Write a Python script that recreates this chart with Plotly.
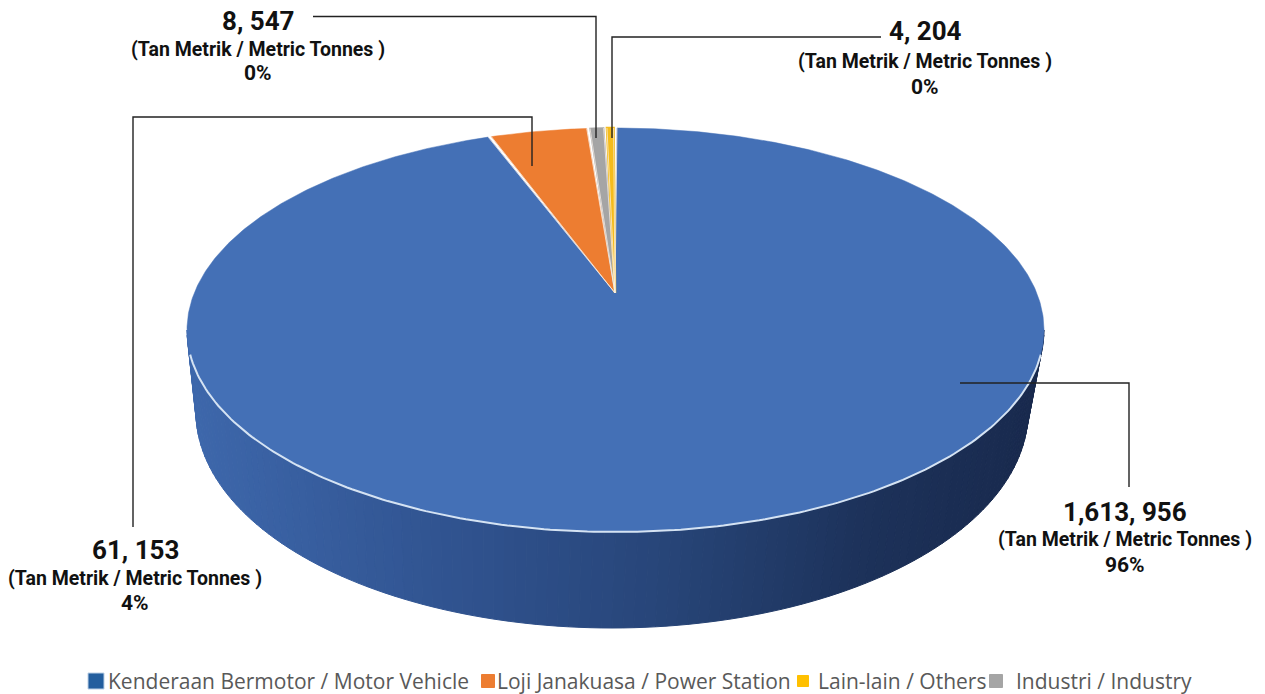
import numpy as np
import plotly.graph_objects as go

# ---- data -------------------------------------------------------------
categories = ["Kenderaan Bermotor / Motor Vehicle", "Loji Janakuasa / Power Station",
              "Lain-lain / Others", "Industri / Industry"]
values = [1613956, 61153, 4204, 8547]
value_labels = ["1,613, 956", "61, 153", "4, 204", "8, 547"]
percent_labels = ["96%", "4%", "0%", "0%"]
unit_label = "(Tan Metrik / Metric Tonnes )"
colors = ["#4470B6", "#ED7D31", "#F5BC1C", "#A5A5A5"]
edge_widths = [0.5, 0.5, 2.5, 1.5]
clockwise_order = [0, 1, 3, 2]

# ---- geometry of the tilted disc (axis units = page pixels) ------------
W, H = 1265, 694
CX, CY, A, B = 615.5, 330.0, 428.5, 202.0      # top ellipse
APEX = (615.0, 293.0)                           # projected pie centre
BX, BY, BA, BB = 612.0, 412.0, 416.0, 216.0     # bottom ellipse
START_DEG, GAP_DEG = 0.2, 0.45


def top(t):
    t = np.radians(t)
    return CX + A * np.sin(t), CY - B * np.cos(t)


def bottom(t):
    t = np.radians(t)
    return BX + BA * np.sin(t), BY - BB * np.cos(t)


def lerp_color(stops, f):
    xs = [s[0] for s in stops]
    return "rgb(%d,%d,%d)" % tuple(np.interp(f, xs, [s[1][i] for s in stops]) for i in range(3))


fig = go.Figure()

# side wall
side_stops = [(0.0, (62, 104, 172)), (0.3, (49, 84, 145)), (0.55, (40, 70, 122)),
              (0.8, (29, 50, 90)), (1.0, (25, 42, 78))]
phis = np.linspace(270, 90, 121)
for p0, p1 in zip(phis[:-1], phis[1:]):
    ts = np.linspace(p0, p1, 4)
    tx, ty = top(ts)
    bx, by = bottom(ts)
    xs = np.r_[tx, bx[::-1], tx[0]]
    ys = np.r_[ty, by[::-1], ty[0]]
    f = (tx.mean() - (CX - A)) / (2 * A)
    c = lerp_color(side_stops, f)
    fig.add_trace(go.Scatter(x=xs, y=ys, mode="lines", fill="toself", fillcolor=c,
                             line=dict(color=c, width=1), hoverinfo="skip", showlegend=False))

# top face
total = sum(values)
sweep_total = 360 - GAP_DEG * len(values)
angle = START_DEG
for idx in clockwise_order:
    sweep = values[idx] / total * sweep_total
    ts = np.linspace(angle, angle + sweep, max(4, int(sweep * 2)))
    rx, ry = top(ts)
    xs = np.r_[APEX[0], rx, APEX[0]]
    ys = np.r_[APEX[1], ry, APEX[1]]
    fig.add_trace(go.Scatter(x=xs, y=ys, mode="lines", fill="toself", fillcolor=colors[idx],
                             line=dict(color=colors[idx], width=edge_widths[idx]),
                             name=categories[idx], showlegend=False,
                             text=f"{categories[idx]}: {values[idx]:,}", hoverinfo="text"))
    angle += sweep + GAP_DEG

# pale slice separators
ang = START_DEG
for idx in clockwise_order:
    ang += values[idx] / total * sweep_total
    for e in (ang, ang + GAP_DEG):
        ex, ey = top(np.array([e]))
        fig.add_trace(go.Scatter(x=[APEX[0], ex[0]], y=[APEX[1], ey[0]], mode="lines",
                                 line=dict(color="rgba(250,240,232,0.8)", width=0.9),
                                 hoverinfo="skip", showlegend=False))
    ang += GAP_DEG

# pale front rim
rt = np.linspace(97, 263, 200)
rx, ry = top(rt)
fig.add_trace(go.Scatter(x=rx, y=ry, mode="lines", line=dict(color="#D5E3F3", width=2),
                         hoverinfo="skip", showlegend=False))

# leader lines
leaders = [
    ([960, 1129, 1129], [383, 383, 487]),
    ([532, 532, 133, 133], [166, 117, 117, 527]),
    ([881, 612, 612], [37, 37, 138]),
    ([313, 596, 596], [16.5, 16.5, 138]),
]
for lx, ly in leaders:
    fig.add_trace(go.Scatter(x=lx, y=ly, mode="lines", line=dict(color="#222222", width=1.4),
                             hoverinfo="skip", showlegend=False))

# data labels
label_pos = [(1125, 512, 539, 565), (135, 550, 578, 603), (925, 31, 61, 87), (258, 21, 49, 73)]
LABEL_FONT = "Roboto"
anns = []
for i, (x, y1, y2, y3) in enumerate(label_pos):
    anns.append(dict(x=x, y=y1, text=f"<b>{value_labels[i]}</b>", showarrow=False,
                     font=dict(family=LABEL_FONT, size=26, color="#111111")))
    anns.append(dict(x=x, y=y2, text=f"<b>{unit_label}</b>", showarrow=False,
                     font=dict(family=LABEL_FONT, size=19.5, color="#111111")))
    anns.append(dict(x=x, y=y3, text=f"<b>{percent_labels[i]}</b>", showarrow=False,
                     font=dict(family=LABEL_FONT, size=21, color="#111111")))

# legend row
swatch_x = [96, 488, 803, 996]
text_x = [106, 495, 816, 1014]
swatch_colors = ["#235E9E", "#ED7D31", "#FFC000", "#A5A5A5"]
swatch_edges = ["#BCD0E6", "#ED7D31", "#FFC000", "#A5A5A5"]
swatch_size = [16, 13, 11, 13]
LEGEND_Y = 681
for i, cat in enumerate(categories):
    fig.add_trace(go.Scatter(x=[swatch_x[i]], y=[LEGEND_Y], mode="markers",
                             marker=dict(symbol="square", size=swatch_size[i], color=swatch_colors[i],
                                         line=dict(color=swatch_edges[i], width=1)),
                             hoverinfo="skip", showlegend=False))
    anns.append(dict(x=text_x[i], y=LEGEND_Y, text=cat, showarrow=False, xanchor="left",
                     font=dict(family="Open Sans", size=21, color="#595959")))

fig.update_layout(
    width=W, height=H, margin=dict(l=0, r=0, t=0, b=0),
    paper_bgcolor="white", plot_bgcolor="white", showlegend=False,
    annotations=anns,
    xaxis=dict(range=[0, W], visible=False, fixedrange=True),
    yaxis=dict(range=[H, 0], visible=False, fixedrange=True),
)
fig.write_html("out.html", config={"displayModeBar": False},
               post_script="document.body.style.margin='0';document.documentElement.style.overflow='hidden';")
